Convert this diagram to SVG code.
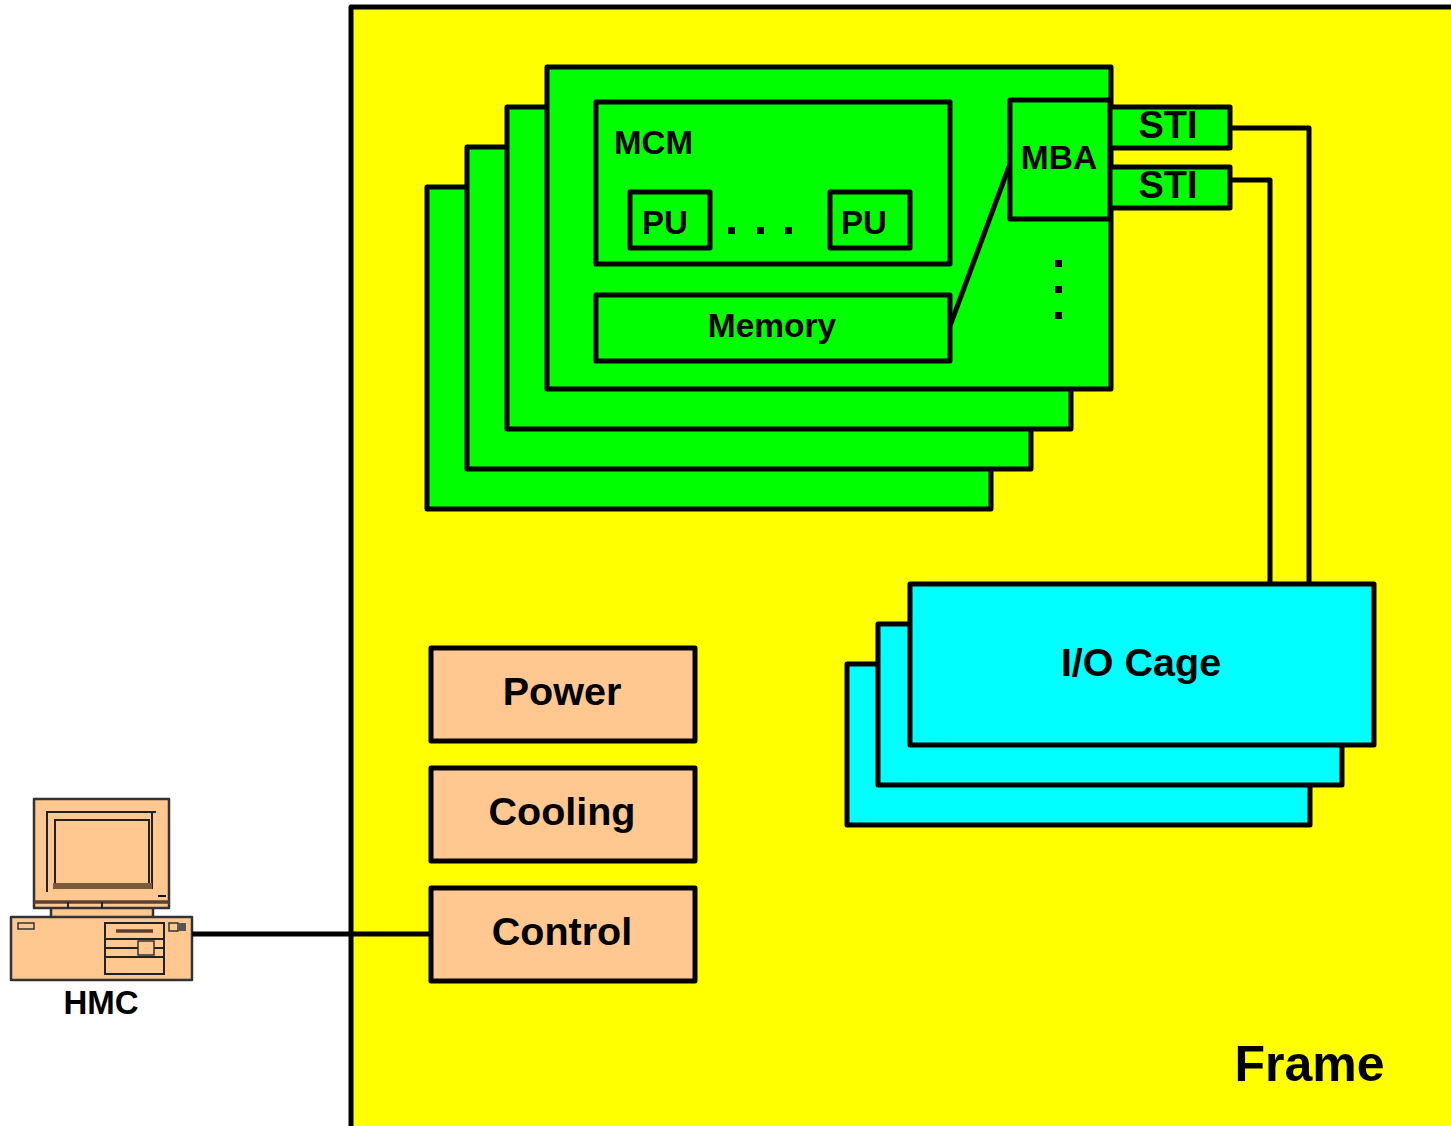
<svg xmlns="http://www.w3.org/2000/svg" width="1451" height="1126" viewBox="0 0 1451 1126">
<style>
.g,.c,.o{stroke:#000;stroke-width:5;stroke-linejoin:round}
.g{fill:#00ff00}.c{fill:#00ffff}.o{fill:#ffc890}
text{font-family:"Liberation Sans",Arial,sans-serif;font-weight:bold;fill:#000;text-anchor:middle}
.l{fill:none;stroke:#000;stroke-width:5;stroke-linejoin:round}
.p{fill:#ffc890;stroke:#333;stroke-width:2.5;stroke-linejoin:round}
.q{fill:none;stroke:#222;stroke-width:2}
.r{fill:#ffc890;stroke:#333;stroke-width:1.5}
</style>
<rect width="1451" height="1126" fill="#fff"/>
<g id="frame">
<path d="M351 1126V7H1451V1126Z" fill="#ffff00"/>
<path class="l" d="M351 1126V7H1451"/>
<text x="1309.500" y="1081" font-size="50">Frame</text>
</g>
<g id="board-4"><rect class="g" x="427" y="187" width="564" height="322"/></g>
<g id="board-3"><rect class="g" x="467" y="147" width="564" height="322"/></g>
<g id="board-2"><rect class="g" x="507" y="107" width="564" height="322"/></g>
<g id="board-1"><rect class="g" x="547" y="67" width="564" height="322"/></g>
<g id="mcm">
<rect class="g" x="596" y="102" width="354" height="162"/>
<text x="653.500" y="154" font-size="33">MCM</text>
</g>
<g id="pu-1"><rect class="g" x="630" y="192" width="80" height="56"/><text x="665" y="234" font-size="33">PU</text></g>
<g id="pu-2"><rect class="g" x="830" y="192" width="80" height="56"/><text x="864" y="234" font-size="33">PU</text></g>
<g id="pu-dots"><rect x="728" y="227" width="7" height="7"/><rect x="757" y="227" width="7" height="7"/><rect x="785" y="227" width="7" height="7"/></g>
<g id="memory"><rect class="g" x="596" y="295" width="354" height="66"/><text x="772" y="337" font-size="33.500">Memory</text></g>
<g id="sti-1"><rect class="g" x="1108" y="107" width="122" height="41"/><text x="1168" y="138" font-size="38">STI</text></g>
<g id="sti-2"><rect class="g" x="1108" y="167" width="122" height="41"/><text x="1168" y="198" font-size="38">STI</text></g>
<g id="mba"><rect class="g" x="1010" y="100" width="100" height="119"/><text x="1059" y="169" font-size="33.500">MBA</text></g>
<g id="mba-dots"><rect x="1055" y="260" width="7" height="7"/><rect x="1055" y="286" width="7" height="7"/><rect x="1055" y="312" width="7" height="7"/></g>
<g id="io-3"><rect class="c" x="847" y="664" width="463" height="161"/></g>
<g id="io-2"><rect class="c" x="878" y="624" width="464" height="161"/></g>
<g id="io-1"><rect class="c" x="910" y="584" width="464" height="161"/><text x="1141" y="676" font-size="39.500">I/O Cage</text></g>
<g id="power"><rect class="o" x="431" y="648" width="264" height="93"/><text x="562" y="705" font-size="39.500">Power</text></g>
<g id="cooling"><rect class="o" x="431" y="768" width="264" height="93"/><text x="562" y="825" font-size="39.500">Cooling</text></g>
<g id="control"><rect class="o" x="431" y="888" width="264" height="93"/><text x="562" y="945" font-size="39.500">Control</text></g>
<g id="hmc">
<path class="p" d="M51 905H153V918H51Z"/>
<path class="p" d="M34 799H169V908H34Z"/>
<path d="M34 902H169" stroke="#5a4030" stroke-width="3.500"/>
<path class="q" d="M68 902V908M102 902V908"/>
<path class="q" d="M156 812H47V892M152 812V889M55 885V820H149V885"/>
<path d="M53 883H152V889H53Z" fill="#7a5a3a"/>
<path d="M158 896H166" stroke="#111" stroke-width="2"/>
<path class="p" d="M11 917H192V980H11Z"/>
<rect class="r" x="18" y="923" width="16" height="6"/>
<path class="q" d="M105 923H164V974H105ZM105 939H164M105 948H164M105 957H164"/>
<path d="M116 931H153" stroke="#5a4030" stroke-width="3.500"/>
<rect class="r" x="138" y="941" width="16" height="14"/>
<rect class="r" x="169" y="923" width="9" height="8"/>
<rect x="179" y="923" width="7" height="8" fill="#555"/>
<text x="101" y="1014" font-size="33">HMC</text>
</g>
<g id="connectors">
<path class="l" d="M1230 128H1309V584"/>
<path class="l" d="M1230 180H1270V584"/>
<path class="l" d="M192 934H431"/>
<path class="l" d="M950 326L1010 164"/>
</g>
</svg>
